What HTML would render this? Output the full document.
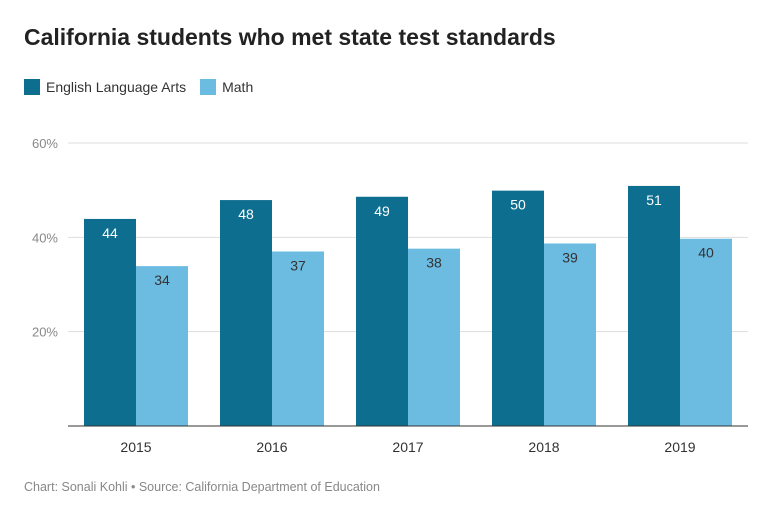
<!DOCTYPE html>
<html><head><meta charset="utf-8"><style>
body{margin:0;background:#fff;font-family:"Liberation Sans",sans-serif;}
#wrap{position:relative;width:770px;height:529px;overflow:hidden;}
.title{position:absolute;left:24px;top:24px;font-size:23px;font-weight:bold;color:#222;}
.legend{position:absolute;left:24px;top:79px;font-size:14px;color:#333;display:flex;gap:14px;}
.legend span.sw{display:inline-block;width:16px;height:16px;vertical-align:-3px;margin-right:6px;}
.foot{position:absolute;left:24px;top:480px;font-size:12.5px;color:#888;}
</style></head><body>
<div id="wrap">
<div class="title">California students who met state test standards</div>
<div class="legend">
<div><span class="sw" style="background:#0d6e8f"></span>English Language Arts</div>
<div><span class="sw" style="background:#6cbbe1"></span>Math</div>
</div>
<svg id="chart" width="770" height="529" style="position:absolute;left:0;top:0"></svg>
<div class="foot">Chart: Sonali Kohli • Source: California Department of Education</div>
</div>
<script>
const categories=["2015","2016","2017","2018","2019"];
const elaValues=[43.9,47.9,48.6,49.9,50.9];
const mathValues=[33.9,37.0,37.6,38.7,39.7];
const yTicks=[20,40,60];
const svg=document.getElementById('chart');
const NS='http://www.w3.org/2000/svg';
const x0=68,x1=748,yBase=426,yTop=143,yMax=60;
const band=(x1-x0)/categories.length;
const y=v=>yBase-(v/yMax)*(yBase-yTop);
const xc=i=>x0+band*(i+0.5);
function mk(t,a){const e=document.createElementNS(NS,t);for(const k in a)e.setAttribute(k,a[k]);svg.appendChild(e);return e;}
yTicks.forEach(t=>{
 const l=mk('line',{x1:x0,x2:x1,y1:y(t),y2:y(t),stroke:'#ddd','stroke-width':1});
 
 
 const tx=mk('text',{x:58,y:y(t)+5,'text-anchor':'end','font-size':13,fill:'#888','font-family':'Liberation Sans'});
 tx.textContent=t+'%';
 
 
});
const bw=52;
categories.forEach((c,i)=>{
 const cx=xc(i);
 const ev=elaValues[i],mv=mathValues[i];
 const b1=mk('rect',{x:cx-bw,y:y(ev),width:bw,height:yBase-y(ev),fill:'#0d6e8f'});
 
 
 const b2=mk('rect',{x:cx,y:y(mv),width:bw,height:yBase-y(mv),fill:'#6cbbe1'});
 
 
 const t1=mk('text',{x:cx-bw/2,y:y(ev)+19,'text-anchor':'middle','font-size':14,fill:'#fff','font-family':'Liberation Sans'});
 t1.textContent=Math.round(ev);
 
 
 const t2=mk('text',{x:cx+bw/2,y:y(mv)+19,'text-anchor':'middle','font-size':14,fill:'#333','font-family':'Liberation Sans'});
 t2.textContent=Math.round(mv);
 
 
 const xl=mk('text',{x:cx,y:452,'text-anchor':'middle','font-size':14,fill:'#333','font-family':'Liberation Sans'});
 xl.textContent=c;
 
 
});
const ax=mk('line',{x1:x0,x2:x1,y1:yBase,y2:yBase,stroke:'#333','stroke-width':1});


</script>
</body></html>
